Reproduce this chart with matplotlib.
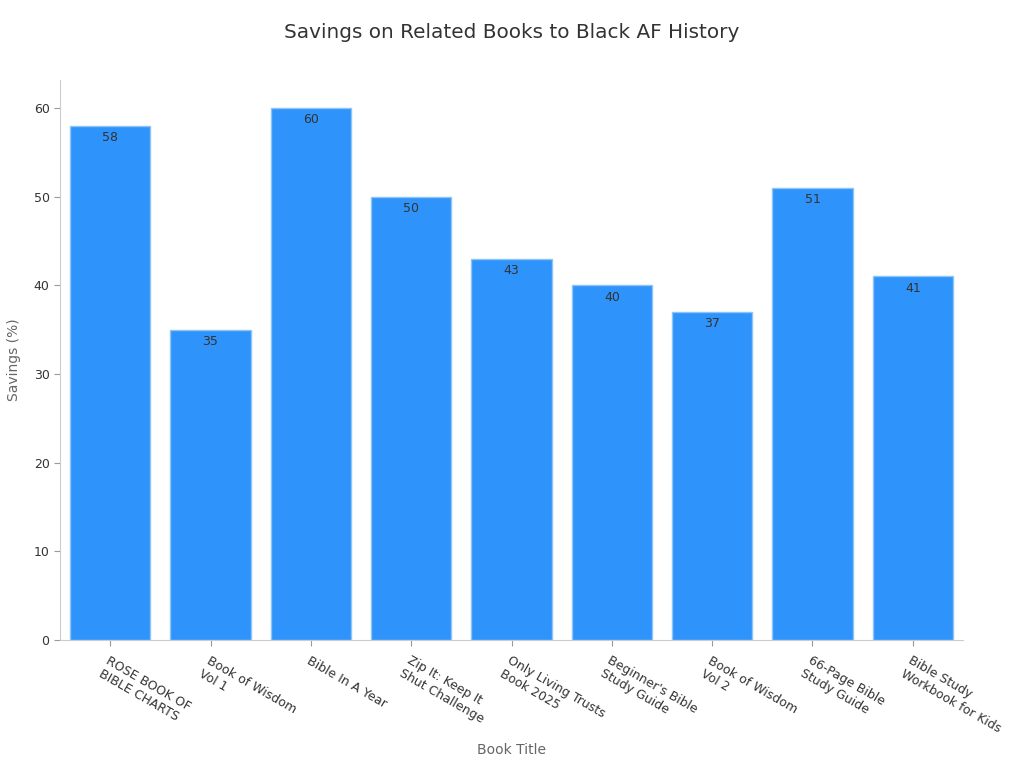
import matplotlib
matplotlib.use("Agg")
import matplotlib.pyplot as plt

titles = ["ROSE BOOK OF\nBIBLE CHARTS", "Book of Wisdom\nVol 1", "Bible In A Year",
          "Zip It: Keep It\nShut Challenge", "Only Living Trusts\nBook 2025",
          "Beginner's Bible\nStudy Guide", "Book of Wisdom\nVol 2", "66-Page Bible\nStudy Guide",
          "Bible Study\nWorkbook for Kids"]
savings = [58, 35, 60, 50, 43, 40, 37, 51, 41]

fig = plt.figure(figsize=(10.24, 7.68), dpi=100)
ax = fig.add_axes([60/1024, 128/768, 903/1024, 560/768])
x = list(range(len(titles)))
bars = ax.bar(x, savings, width=0.8, color="#2E93FA", edgecolor="#8cc4f7", linewidth=1)
for xi, v in zip(x, savings):
    ax.text(xi, v - 0.6, str(v), ha="center", va="top", fontsize=9, color="#333333")
ax.set_xlim(-0.5, 8.5)
ax.set_ylim(0, 63.15)
ax.set_yticks([0, 10, 20, 30, 40, 50, 60])
ax.set_xticks(x)
ax.set_xticklabels(titles, rotation=-30, ha="left", rotation_mode="anchor", fontsize=9, color="#333333")
ax.tick_params(axis="y", labelsize=9, colors="#333333", length=4, color="#999999")
ax.tick_params(axis="x", length=4, color="#999999", pad=6)
for s in ["top", "right"]:
    ax.spines[s].set_visible(False)
for s in ["left", "bottom"]:
    ax.spines[s].set_color("#cccccc")
ax.set_xlabel("Book Title", fontsize=10, color="#666666", labelpad=6)
ax.set_ylabel("Savings (%)", fontsize=10, color="#666666", labelpad=9)
fig.text(0.5, 1 - 33/768, "Savings on Related Books to Black AF History", ha="center", va="center",
         fontsize=14.4, color="#333333")
fig.savefig("out.png", dpi=100)
